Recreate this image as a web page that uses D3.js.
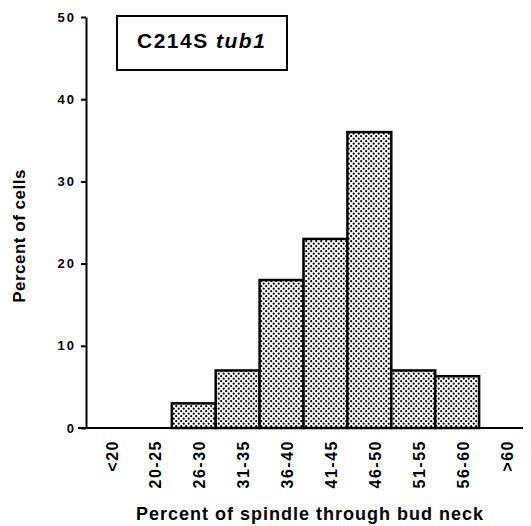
<!DOCTYPE html>
<html>
<head>
<meta charset="utf-8">
<script src="https://cdn.jsdelivr.net/npm/d3@7"></script>
<style>
  body { margin: 0; background: #fff; }
  text { font-family: "Liberation Sans", Arial, sans-serif; font-weight: bold; fill: #000; }
</style>
</head>
<body>
<svg></svg>

<script>

  // categories along the bottom
  var bins = ["<20", "20-25", "26-30", "31-35", "36-40", "41-45", "46-50", "51-55", "56-60", ">60"];
  // percent of cells in each bin
  var percents = [0, 0, 3, 7, 18, 23, 36, 7, 6.3, 0];
  var yTicks = [0, 10, 20, 30, 40, 50];

  var svg = d3.select("svg").attr("width", 531).attr("height", 526);

  // dotted fill like the print
  var pat = svg.append("defs").append("pattern")
    .attr("id", "dots")
    .attr("patternUnits", "userSpaceOnUse")
    .attr("width", 5).attr("height", 5);
  pat.append("rect").attr("width", 5).attr("height", 5).attr("fill", "#fff");
  pat.append("circle").attr("cx", 1.2).attr("cy", 1.2).attr("r", 1.1).attr("fill", "#000");
  pat.append("circle").attr("cx", 3.7).attr("cy", 3.7).attr("r", 1.1).attr("fill", "#000");

  var x = d3.scaleBand().domain(bins).range([84, 523]).padding(0);
  var y = d3.scaleLinear().domain([0, 50]).range([428, 17]);

  // bars
  svg.selectAll("rect.bar").data(bins.filter(function(d, i) { return percents[i] > 0; }))
    .enter()
    .append("rect")
    .attr("class", "bar")
    .attr("x", function(d) { return x(d); })
    .attr("width", x.bandwidth())
    .attr("y", function(d) { return y(percents[bins.indexOf(d)]); })
    .attr("height", function(d) { return y(0) - y(percents[bins.indexOf(d)]); })
    .attr("fill", "url(#dots)")
    .attr("stroke", "#000")
    .attr("stroke-width", 2.5);

  // y axis
  var yAxis = svg.append("g")
    .attr("transform", "translate(86,0)")
    .call(d3.axisLeft(y).tickValues(yTicks).tickSize(5).tickSizeOuter(0));
  yAxis.select(".domain").attr("stroke-width", 2);
  yAxis.selectAll(".tick line").attr("stroke-width", 2);
  yAxis.selectAll(".tick text")
    .attr("x", -10)
    .style("font-size", "13px")
    .style("letter-spacing", "2px")
    .style("font-family", "'Liberation Sans', Arial, sans-serif");

  // x axis: baseline and rotated labels
  var xAxis = svg.append("g")
    .attr("transform", "translate(0,428)")
    .call(d3.axisBottom(x).tickSize(0).tickSizeOuter(0));
  xAxis.select(".domain").attr("d", "M78,0H523").attr("stroke-width", 2);
  xAxis.selectAll(".tick text")
    .attr("transform", "rotate(-90)")
    .attr("text-anchor", "end")
    .attr("x", -12)
    .attr("y", 6)
    .attr("dy", "0.35em")
    .style("font-size", "16px")
    .style("letter-spacing", "1.5px")
    .style("font-family", "'Liberation Sans', Arial, sans-serif");

  // axis titles
  svg.append("text")
    .attr("transform", "translate(25,236) rotate(-90)")
    .attr("text-anchor", "middle")
    .style("font-size", "17px")
    .style("letter-spacing", "0.5px")
    .text("Percent of cells");

  svg.append("text")
    .attr("x", 310).attr("y", 520)
    .attr("text-anchor", "middle")
    .style("font-size", "18px")
    .style("letter-spacing", "1px")
    .text("Percent of spindle through bud neck");

  // label box
  svg.append("rect")
    .attr("x", 117).attr("y", 16)
    .attr("width", 170).attr("height", 54)
    .attr("fill", "#fff")
    .attr("stroke", "#000")
    .attr("stroke-width", 2);

  var lbl = svg.append("text")
    .attr("x", 137).attr("y", 48)
    .style("font-size", "21px")
    .style("letter-spacing", "1.5px");
  lbl.append("tspan").text("C214S ");
  lbl.append("tspan").style("font-style", "italic").text("tub1");

</script>
</body>
</html>
